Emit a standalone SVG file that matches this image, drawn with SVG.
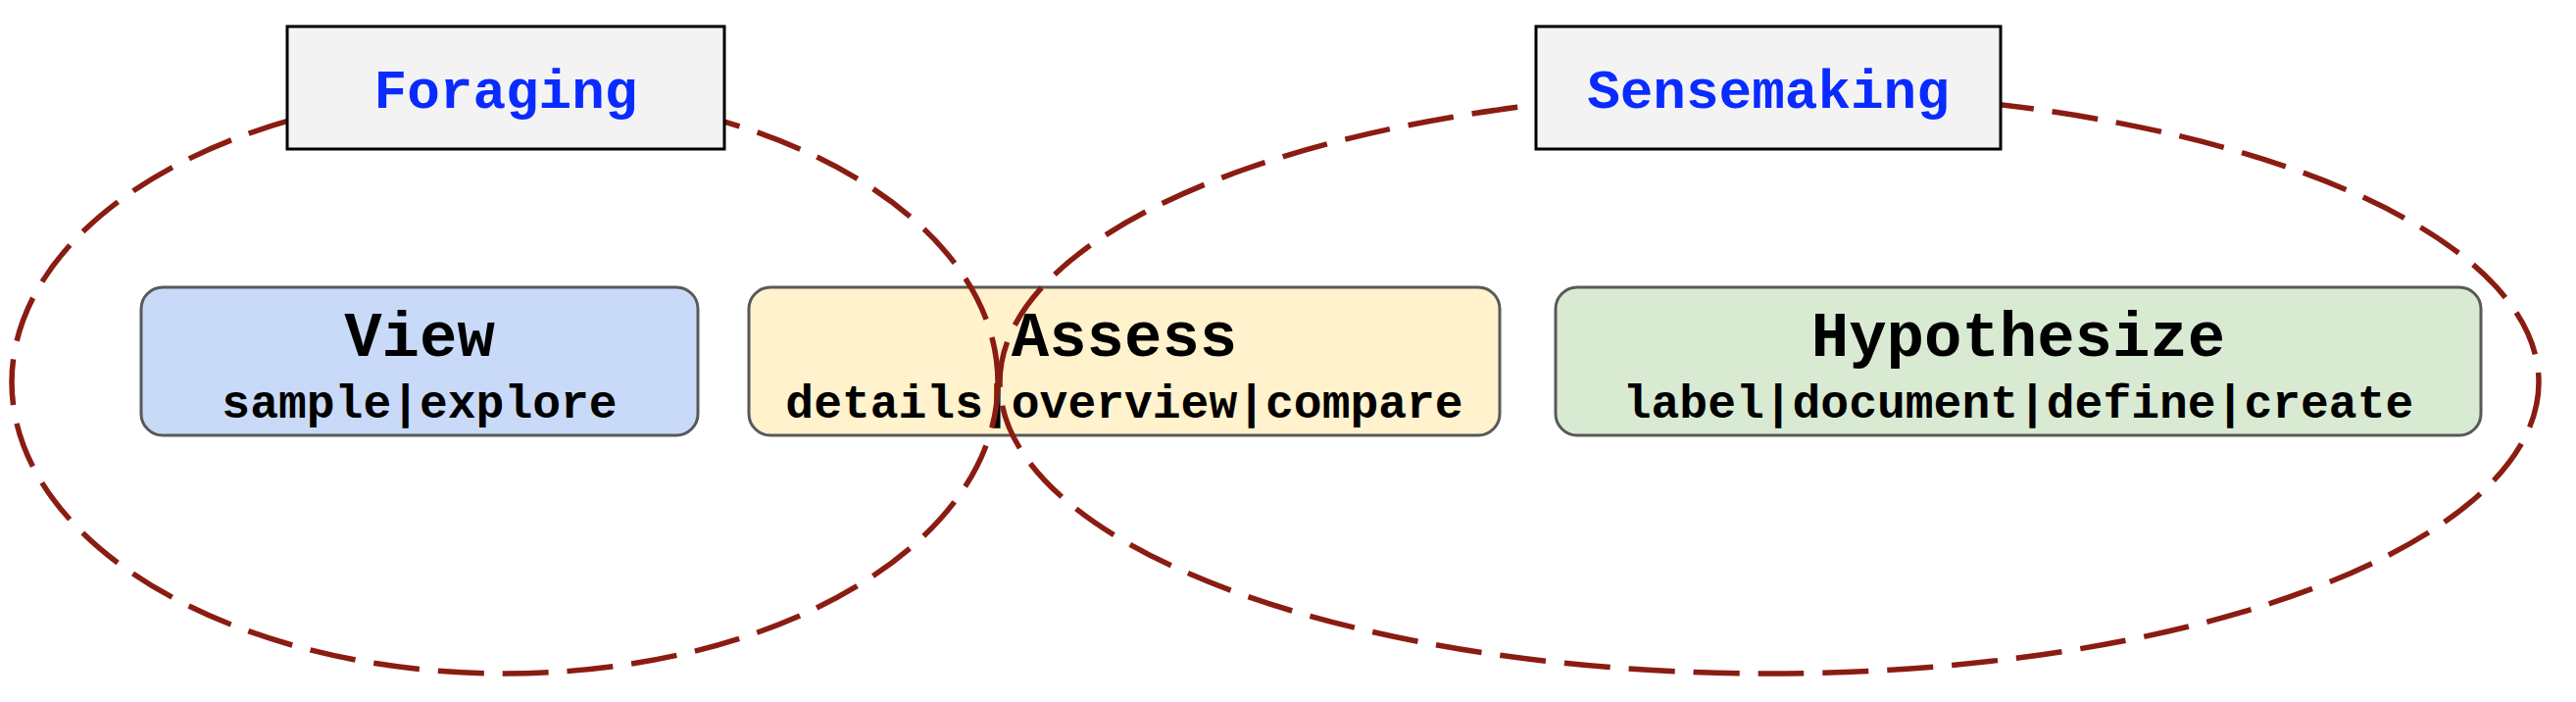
<svg xmlns="http://www.w3.org/2000/svg" width="2628" height="716" viewBox="0 0 2628 716">
<style>
.proc{stroke:#595959;stroke-width:3}
.title{font-family:"Liberation Mono","Courier New",monospace;font-weight:bold;font-size:64px;fill:#000;text-anchor:middle}
.sub{font-family:"Liberation Mono","Courier New",monospace;font-weight:bold;font-size:48px;fill:#000;text-anchor:middle}
.lbl{fill:#f3f3f3;stroke:#000;stroke-width:3}
.lbltxt{font-family:"Liberation Mono","Courier New",monospace;font-weight:bold;font-size:56px;fill:#0a2bff;text-anchor:middle}
.ell{fill:none;stroke:#8a1c12;stroke-width:5.5;stroke-dasharray:47 19}
</style>
<rect width="2628" height="716" fill="#fff"/>
<g id="view">
<rect class="proc" x="144" y="293" width="568" height="151" rx="22" fill="#c9daf8"/>
<text class="title" x="428" y="363">View</text>
<text class="sub" x="428" y="426">sample|explore</text>
</g>
<g id="assess">
<rect class="proc" x="764" y="293" width="766" height="151" rx="22" fill="#fff2cc"/>
<text class="title" x="1147" y="363">Assess</text>
<text class="sub" x="1147" y="426">details|overview|compare</text>
</g>
<g id="hypothesize">
<rect class="proc" x="1587" y="293" width="944" height="151" rx="22" fill="#d9ead3"/>
<text class="title" x="2059" y="363">Hypothesize</text>
<text class="sub" x="2059" y="426">label|document|define|create</text>
</g>
<g id="connectors">
<ellipse class="ell" cx="515" cy="390" rx="503" ry="297"/>
<ellipse class="ell" cx="1805" cy="390" rx="785" ry="297"/>
</g>
<g id="foraging">
<rect class="lbl" x="293" y="27" width="446" height="125"/>
<text class="lbltxt" x="516" y="110">Foraging</text>
</g>
<g id="sensemaking">
<rect class="lbl" x="1567" y="27" width="474" height="125"/>
<text class="lbltxt" x="1804" y="110">Sensemaking</text>
</g>
</svg>
